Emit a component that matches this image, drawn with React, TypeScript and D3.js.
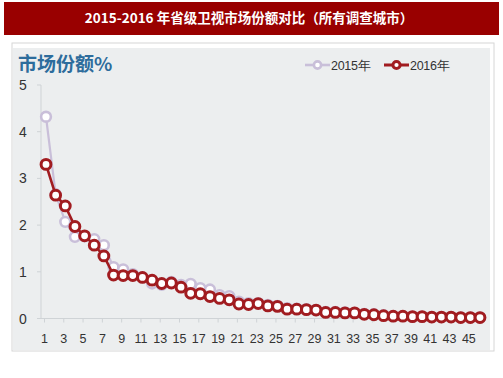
import React from "react";
import * as d3 from "d3";

const W = 503;
const H = 378;

const titleText = "2015-2016 年省级卫视市场份额对比（所有调查城市）";
const yLabel = "市场份额%";
const seriesNames = ["2015年", "2016年"];
const yTicks = [0, 1, 2, 3, 4, 5];
const xTickLabels = [1, 3, 5, 7, 9, 11, 13, 15, 17, 19, 21, 23, 25, 27, 29, 31, 33, 35, 37, 39, 41, 43, 45];

const values2015 = [
  4.32, 2.66, 2.07, 1.75, 1.76, 1.70, 1.57, 1.10, 1.05, 0.95,
  0.88, 0.75, 0.72, 0.78, 0.72, 0.74, 0.65, 0.62, 0.50, 0.48,
  0.36, 0.33, 0.33, 0.29, 0.27, 0.22, 0.21, 0.20, 0.18, 0.14,
  0.14, 0.13, 0.12, 0.10, 0.09, 0.07, 0.05, 0.05, 0.04, 0.04,
  0.03, 0.03, 0.03, 0.02, 0.02, 0.02,
];
const values2016 = [
  3.30, 2.64, 2.41, 1.97, 1.77, 1.57, 1.34, 0.93, 0.92, 0.92,
  0.88, 0.82, 0.75, 0.76, 0.67, 0.54, 0.53, 0.47, 0.43, 0.40,
  0.31, 0.30, 0.32, 0.27, 0.26, 0.20, 0.20, 0.19, 0.18, 0.13,
  0.13, 0.12, 0.12, 0.09, 0.08, 0.06, 0.05, 0.05, 0.04, 0.04,
  0.03, 0.03, 0.03, 0.02, 0.02, 0.02,
];

const COLOR_2015 = "#c9bfd9";
const COLOR_2016 = "#a11c20";

export default function App() {
  const n = values2016.length;
  const x = d3.scaleLinear().domain([1, n]).range([46, 480]);
  const y = d3.scaleLinear().domain([0, 5]).range([318.5, 85]);
  const line = d3
    .line<number>()
    .x((_, i) => x(i + 1))
    .y((d) => y(d));

  const series = [
    { name: seriesNames[0], values: values2015, color: COLOR_2015, lw: 2.2, cw: 2.6 },
    { name: seriesNames[1], values: values2016, color: COLOR_2016, lw: 2.6, cw: 3 },
  ];

  return (
    <svg
      width={W}
      height={H}
      style={{ position: "absolute", left: 0, top: 0, background: "#fff" }}
      fontFamily="Liberation Sans, Arial, sans-serif"
    >
      {/* title bar */}
      <rect x={4} y={2} width={495} height={33} fill="#990000" />
      <text
        x={249}
        y={23}
        textAnchor="middle"
        fill="#fff"
        fontSize={13.5}
        fontWeight="bold"
        fontFamily="'Noto Sans CJK SC', 'Liberation Serif', serif"
      >
        {titleText}
      </text>

      {/* panel */}
      <rect x={12} y={43} width={482} height={308} fill="#fff" stroke="#d6d6d6" strokeWidth={1} />
      <rect x={13} y={48} width={477} height={302} fill="#eceeef" />

      {/* y label */}
      <text
        x={18}
        y={71}
        fontSize={19}
        fontWeight="bold"
        fill="#2d6c9c"
        fontFamily="'Noto Sans CJK SC', sans-serif"
      >
        {yLabel}
      </text>

      {/* axes */}
      <line x1={41} x2={41} y1={y(5)} y2={y(0)} stroke="#cfd3d6" strokeWidth={1} />
      <line x1={41} x2={484} y1={y(0)} y2={y(0)} stroke="#cfd3d6" strokeWidth={1} />
      {yTicks.map((t) => (
        <g key={"yt" + t}>
          <line x1={37} x2={41} y1={y(t)} y2={y(t)} stroke="#cfd3d6" />
          <text x={23} y={y(t) + 5} textAnchor="middle" fontSize={14} fill="#333">
            {t}
          </text>
        </g>
      ))}
      {xTickLabels.map((t) => (
        <g key={"xt" + t}>
          <line x1={x(t) - 1.5} x2={x(t) - 1.5} y1={y(0)} y2={y(0) + 4} stroke="#cfd3d6" />
          <text x={x(t) - 1.5} y={343} textAnchor="middle" fontSize={12.5} fill="#333">
            {t}
          </text>
        </g>
      ))}

      {/* series */}
      {series.map((s) => (
        <g key={s.name}>
          <path d={line(s.values) || ""} fill="none" stroke={s.color} strokeWidth={s.lw} />
          {s.values.map((v, i) => (
            <circle
              key={i}
              cx={x(i + 1)}
              cy={y(v)}
              r={4.9}
              fill="#fff"
              stroke={s.color}
              strokeWidth={s.cw}
            />
          ))}
        </g>
      ))}

      {/* legend */}
      {series.map((s, i) => {
        const lx = 305 + i * 79;
        return (
          <g key={"lg" + i}>
            <line x1={lx} x2={lx + 25} y1={65} y2={65} stroke={s.color} strokeWidth={s.lw + 0.4} />
            <circle cx={lx + 12.5} cy={65} r={3.6} fill="#fff" stroke={s.color} strokeWidth={s.cw} />
            <text x={lx + 26} y={69.5} fontSize={12.5} fill="#333" letterSpacing={-0.3}>
              {s.name}
            </text>
          </g>
        );
      })}
    </svg>
  );
}
